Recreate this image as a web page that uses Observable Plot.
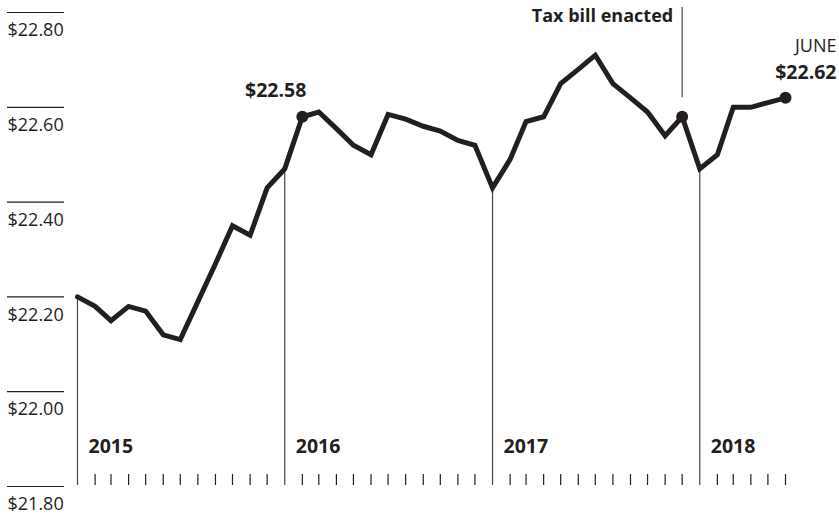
<!DOCTYPE html>
<html>
<head>
<meta charset="utf-8">
<script src="https://cdn.jsdelivr.net/npm/d3@7"></script>
<script src="https://cdn.jsdelivr.net/npm/@observablehq/plot@0.6"></script>
<style>
  html, body { margin: 0; padding: 0; background: #fff; }
  #chart svg { display: block; font-family: "Open Sans", sans-serif; }
</style>
</head>
<body>
<div id="chart"></div>
<script>
// Monthly values, Jan 2015 – Jun 2018
const months = [
  "2015-01","2015-02","2015-03","2015-04","2015-05","2015-06","2015-07","2015-08","2015-09","2015-10","2015-11","2015-12",
  "2016-01","2016-02","2016-03","2016-04","2016-05","2016-06","2016-07","2016-08","2016-09","2016-10","2016-11","2016-12",
  "2017-01","2017-02","2017-03","2017-04","2017-05","2017-06","2017-07","2017-08","2017-09","2017-10","2017-11","2017-12",
  "2018-01","2018-02","2018-03","2018-04","2018-05","2018-06"
];
const values = [
  22.20, 22.18, 22.15, 22.18, 22.17, 22.12, 22.11, 22.19, 22.27, 22.35, 22.33, 22.43,
  22.47, 22.58, 22.59, 22.555, 22.52, 22.50, 22.585, 22.575, 22.56, 22.55, 22.53, 22.52,
  22.43, 22.49, 22.57, 22.58, 22.65, 22.68, 22.71, 22.65, 22.62, 22.59, 22.54, 22.58,
  22.47, 22.50, 22.60, 22.60, 22.61, 22.62
];
const yTicks = [21.8, 22.0, 22.2, 22.4, 22.6, 22.8];
const yearLabels = ["2015", "2016", "2017", "2018"];
const highlightMonths = ["2016-02", "2017-12", "2018-06"];
const taxMonth = "2017-12";

const parse = d3.utcParse("%Y-%m");
const data = months.map((m, i) => ({date: parse(m), value: values[i], key: m}));
const years = yearLabels.map(y => {
  const d = data.find(r => r.key === y + "-01");
  return {date: d.date, value: d.value, label: y};
});
const monthTicks = data.filter(d => d.date.getUTCMonth() !== 0).map(d => d.date);
const dots = data.filter(d => highlightMonths.includes(d.key));
const tax = data.find(d => d.key === taxMonth);
const feb16 = data.find(d => d.key === "2016-02");
const last = data[data.length - 1];
const yMin = yTicks[0], yMax = yTicks[yTicks.length - 1];

const ink = "#231f20";
const fmt = v => "$" + v.toFixed(2);

const chart = Plot.plot({
  width: 839,
  height: 514,
  marginLeft: 77,
  marginRight: 54,
  marginTop: 12,
  marginBottom: 28,
  x: {type: "utc", domain: [data[0].date, last.date]},
  y: {domain: [yMin, yMax]},
  style: {fontFamily: "'Open Sans', sans-serif", color: ink, background: "#fff"},
  marks: [
    // y gridline stubs at the left
    Plot.axisY(yTicks, {anchor: "left", tickSize: 57, dx: -13, tickFormat: () => "", stroke: ink, strokeOpacity: 1, strokeWidth: 1.2, label: null}),
    Plot.axisY(yTicks, {anchor: "left", tickSize: 0, tickPadding: 0, dx: -70, dy: 18, textAnchor: "start", tickFormat: fmt, fontSize: 18, fill: ink, label: null}),
    // monthly ticks
    Plot.axisX(monthTicks, {anchor: "bottom", tickSize: 11, dy: -12, tickFormat: () => "", stroke: ink, strokeWidth: 1.2, strokeOpacity: 1, label: null}),
    // year rules from baseline to the line
    Plot.ruleX(years, {x: "date", y1: "value", y2: yMin, insetBottom: 1, stroke: "#444", strokeWidth: 1.2}),
    Plot.text(years, {x: "date", y: yMin, text: "label", dx: 11, dy: -40, textAnchor: "start", fontWeight: "bold", fontSize: 19.5, fill: ink}),
    // tax bill annotation rule
    Plot.ruleX([tax], {x: "date", y1: yMax, y2: "value", insetTop: -5, insetBottom: 19, stroke: "#444", strokeWidth: 1.2}),
    Plot.text([tax], {x: "date", frameAnchor: "top", lineAnchor: "middle", text: () => "Tax bill enacted", dx: -9, dy: 3.5, textAnchor: "end", fontWeight: "bold", fontSize: 18, fill: ink}),
    // main line
    Plot.line(data, {x: "date", y: "value", stroke: ink, strokeWidth: 5, strokeLinejoin: "miter", strokeMiterlimit: 3}),
    Plot.dot(dots, {x: "date", y: "value", r: 6, fill: ink, stroke: "none"}),
    // value labels
    Plot.text([feb16], {x: "date", y: "value", text: d => fmt(d.value), dx: 4, dy: -26, textAnchor: "end", fontWeight: "bold", fontSize: 19.5, fill: ink}),
    Plot.text([last], {x: "date", y: "value", text: () => "JUNE", dx: 51, dy: -52, textAnchor: "end", fontSize: 18, fill: ink}),
    Plot.text([last], {x: "date", y: "value", text: d => fmt(d.value), dx: 51, dy: -25, textAnchor: "end", fontWeight: "bold", fontSize: 19.5, fill: ink})
  ]
});
document.getElementById("chart").appendChild(chart);
</script>
</body>
</html>
